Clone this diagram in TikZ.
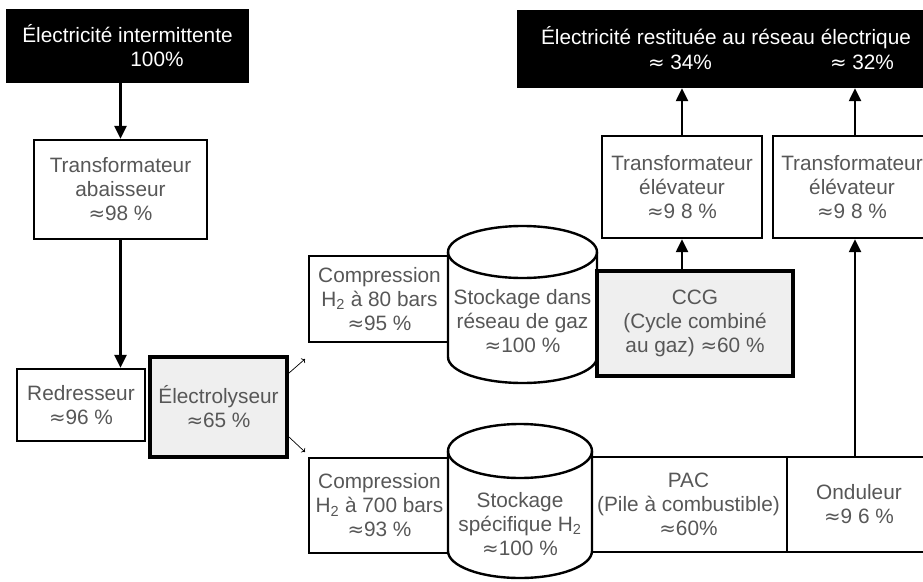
\documentclass[tikz,border=0pt]{standalone}
\usepackage{fontspec}
\setmainfont{Liberation Sans}
\newfontfamily\dejavu[Scale=0.95]{DejaVu Sans}
\usetikzlibrary{arrows.meta,calc}
\definecolor{txtgray}{HTML}{575757}
\definecolor{boxgray}{HTML}{EFEFEF}
\newcommand\apx{{\dejavu ≈}}
\newcommand\mainsz{\fontsize{20.8}{24}\selectfont}
\begin{document}
\begin{tikzpicture}[x=1pt,y=-1pt,
  box/.style={draw, line width=2.4pt, fill=white, text=txtgray, align=center, inner sep=0pt, font=\mainsz},
  thickbox/.style={box, line width=4pt, fill=boxgray},
  blackbox/.style={fill=black, draw=none, text=white, align=center, inner sep=0pt, font=\mainsz},
  whitetxt/.style={text=white, inner sep=0pt, font=\mainsz},
  graytxt/.style={text=txtgray, align=center, inner sep=0pt, font=\mainsz},
  arr/.style={line width=2.4pt, -{Triangle[width=12pt,length=13pt]}},
  smallarr/.style={line width=0.7pt, -{To[length=3pt,width=6pt]}},
  cyl/.style={draw, line width=2.4pt, fill=white}]
\clip (0,0) rectangle (923,581);
\fill[white] (0,0) rectangle (923,581);

% left column
\node[blackbox, minimum width=243pt, minimum height=74pt] (black1) at (127.5,45.5)
  {Électricité intermittente\\\hspace*{59pt}100\%};
\node[box, minimum width=173pt, minimum height=99pt] (abais) at (120.5,189.5)
  {Transformateur\\abaisseur\\\apx98 \%};
\node[box, minimum width=128pt, minimum height=72pt] (redr) at (81,405)
  {Redresseur\\\apx96 \%};
\node[thickbox, minimum width=137pt, minimum height=100pt] (elec) at (218.5,407)
  {Électrolyseur\\\apx65 \%};

% upper branch
\node[box, minimum width=141pt, minimum height=86pt] (comp80) at (379.5,299)
  {Compression\\H\textsubscript{2} à 80 bars\\\apx95 \%};
\draw[cyl] (448,252) -- (448,357)
  arc[start angle=180, end angle=360, x radius=74.5pt, y radius=26pt]
  -- (597,252)
  arc[start angle=0, end angle=180, x radius=74.5pt, y radius=26pt] -- cycle;
\draw[line width=2.4pt] (448,252)
  arc[start angle=180, end angle=360, x radius=74.5pt, y radius=26pt];
\node[graytxt] (stor1) at (522.5,321)
  {Stockage dans\\réseau de gaz\\\apx100 \%};
\node[thickbox, minimum width=196pt, minimum height=105pt] (ccg) at (695,323.5)
  {CCG\\(Cycle combiné\\au gaz) \apx60 \%};
\node[box, minimum width=160pt, minimum height=102pt] (elev1) at (682,187)
  {Transformateur\\élévateur\\\apx9 8 \%};
\node[box, minimum width=158pt, minimum height=102pt] (elev2) at (852,187)
  {Transformateur\\élévateur\\\apx9 8 \%};

% output
\node[blackbox, minimum width=418pt, minimum height=78pt] (black2) at (726,49) {};
\node[whitetxt] (outtitle) at (726,38) {Électricité restituée au réseau électrique};
\node[whitetxt] (out34) at (680,62) {\apx\ 34\%};
\node[whitetxt] (out32) at (862,62) {\apx\ 32\%};

% lower branch
\node[box, minimum width=141pt, minimum height=95pt] (comp700) at (379.5,505.5)
  {Compression\\H\textsubscript{2} à 700 bars\\\apx93 \%};
\node[box, minimum width=197pt, minimum height=95pt] (pac) at (688.5,504.5)
  {PAC\\(Pile à combustible)\\\apx60\%};
\draw[cyl] (448,451) -- (448,551)
  arc[start angle=180, end angle=360, x radius=72pt, y radius=27pt]
  -- (592,451)
  arc[start angle=0, end angle=180, x radius=72pt, y radius=27pt] -- cycle;
\draw[line width=2.4pt] (448,451)
  arc[start angle=180, end angle=360, x radius=72pt, y radius=27pt];
\node[graytxt] (stor2) at (520,524)
  {Stockage\\spécifique H\textsubscript{2}\\\apx100 \%};
\node[box, minimum width=144pt, minimum height=95pt] (ond) at (859,504.5)
  {Onduleur\\\apx9 6 \%};

% connectors
\coordinate (e2b) at ($(elev2.south)+(3,0)$);
\coordinate (e2t) at ($(elev2.north)+(3,0)$);
\draw[arr] (abais.north |- black1.south) -- (abais.north);
\draw[arr] (abais.south) -- (abais.south |- redr.north);
\draw[arr] (elev1.south |- ccg.north) -- (elev1.south);
\draw[arr] (elev1.north) -- (elev1.north |- black2.south);
\draw[arr] (e2b |- ond.north) -- (e2b);
\draw[arr] (e2t) -- (e2t |- black2.south);

\coordinate (s1a) at (289,373);
\coordinate (s1b) at (305,359);
\coordinate (s2a) at (289,437);
\coordinate (s2b) at (305,452);
\draw[smallarr] (s1a) -- (s1b);
\draw[smallarr] (s2a) -- (s2b);
\end{tikzpicture}
\end{document}
